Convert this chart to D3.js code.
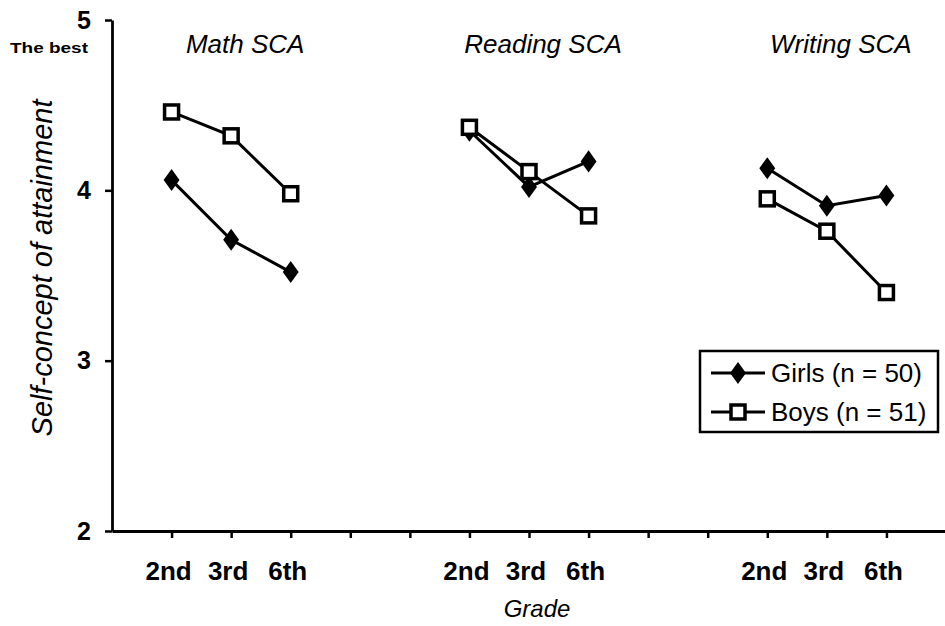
<!DOCTYPE html>
<html><head><meta charset="utf-8">
<script src="https://cdn.jsdelivr.net/npm/d3@7"></script>
<style>body{margin:0;background:#fff}svg{display:block}</style>
</head><body>
<svg id="c" width="945" height="626"></svg>
<script>
const panels = ["Math SCA", "Reading SCA", "Writing SCA"];
const grades = ["2nd", "3rd", "6th"];
const panelStart = [1, 6, 11];
const girls = [[4.06, 3.71, 3.52], [4.35, 4.02, 4.17], [4.13, 3.91, 3.97]];
const boys  = [[4.46, 4.32, 3.98], [4.37, 4.11, 3.85], [3.95, 3.76, 3.40]];
const yTicks = [2, 3, 4, 5];
const xTicks = d3.range(1, 14);
const legendLabels = ["Girls (n = 50)", "Boys (n = 51)"];

const svg = d3.select("#c");
const x = d3.scaleLinear().domain([0, 14]).range([112, 946]);
const y = d3.scaleLinear().domain([2, 5]).range([531, 20]);
const font = "Liberation Sans, Arial, sans-serif";

// axes
const yAx = svg.append("g").attr("transform", "translate(112,0)")
  .call(d3.axisLeft(y).tickValues(yTicks).tickSize(7).tickSizeOuter(0).tickPadding(14).tickFormat(d3.format("d")));
yAx.select(".domain").attr("stroke-width", 2.8);
yAx.selectAll(".tick line").attr("stroke-width", 2.5);
yAx.selectAll(".tick text").attr("font-family", font).attr("font-weight", "bold").attr("font-size", 25).attr("fill", "#000");

const xAx = svg.append("g").attr("transform", "translate(0,531)")
  .call(d3.axisBottom(x).tickValues(xTicks).tickSize(7).tickSizeOuter(0).tickFormat(""));
xAx.select(".domain").attr("stroke-width", 2.8);
xAx.selectAll(".tick line").attr("stroke-width", 2.5);

svg.append("text").attr("x", 88).attr("y", 53).attr("text-anchor", "end")
  .attr("font-family", font).attr("font-weight", "bold").attr("font-size", 15)
  .attr("textLength", 78).attr("lengthAdjust", "spacingAndGlyphs").text("The best");

// grade labels
panels.forEach((p, i) => {
  grades.forEach((g, j) => {
    svg.append("text").attr("x", x(panelStart[i] + j) - 3).attr("y", 580).attr("text-anchor", "middle")
      .attr("font-family", font).attr("font-weight", "bold").attr("font-size", 26).text(g);
  });
  svg.append("text").attr("x", x(panelStart[i] + 1) + 14).attr("y", 53).attr("text-anchor", "middle")
    .attr("font-family", font).attr("font-style", "italic").attr("font-size", 26).text(p);
});

svg.append("text").attr("x", x(7)+8).attr("y", 617).attr("text-anchor", "middle")
  .attr("font-family", font).attr("font-style", "italic").attr("font-size", 24).text("Grade");

svg.append("text").attr("transform", "translate(52,268) rotate(-90)").attr("text-anchor", "middle")
  .attr("font-family", font).attr("font-style", "italic").attr("font-size", 29).text("Self-concept of attainment");

const line = d3.line().x(d => x(d[0])).y(d => y(d[1]));

function drawSeries(data, type) {
  data.forEach((vals, i) => {
    const pts = vals.map((v, j) => [panelStart[i] + j, v]);
    svg.append("path").attr("d", line(pts)).attr("fill", "none").attr("stroke", "#000").attr("stroke-width", 3);
    pts.forEach(pt => {
      if (type === "girls") {
        svg.append("path").attr("d", d3.symbol().type(d3.symbolDiamond).size(140)())
          .attr("transform", `translate(${x(pt[0])},${y(pt[1])}) scale(1.25,1)`).attr("fill", "#000");
      } else {
        svg.append("rect").attr("x", x(pt[0]) - 7).attr("y", y(pt[1]) - 7).attr("width", 14).attr("height", 14)
          .attr("fill", "#fff").attr("stroke", "#000").attr("stroke-width", 3.5);
      }
    });
  });
}
drawSeries(girls, "girls");
drawSeries(boys, "boys");

// legend
const lg = svg.append("g");
lg.append("rect").attr("x", 700).attr("y", 351).attr("width", 238).attr("height", 81)
  .attr("fill", "#fff").attr("stroke", "#000").attr("stroke-width", 2.5);
legendLabels.forEach((lab, i) => {
  const cy = 373 + i * 39;
  lg.append("line").attr("x1", 711).attr("x2", 765).attr("y1", cy).attr("y2", cy).attr("stroke", "#000").attr("stroke-width", 3);
  if (i === 0) {
    lg.append("path").attr("d", d3.symbol().type(d3.symbolDiamond).size(140)())
      .attr("transform", `translate(738,${cy}) scale(1.25,1)`).attr("fill", "#000");
  } else {
    lg.append("rect").attr("x", 731).attr("y", cy - 7).attr("width", 14).attr("height", 14)
      .attr("fill", "#fff").attr("stroke", "#000").attr("stroke-width", 3.5);
  }
  lg.append("text").attr("x", 771).attr("y", cy + 9).attr("font-family", font).attr("font-size", 26)
    .text(lab);
});
</script>
</body></html>
